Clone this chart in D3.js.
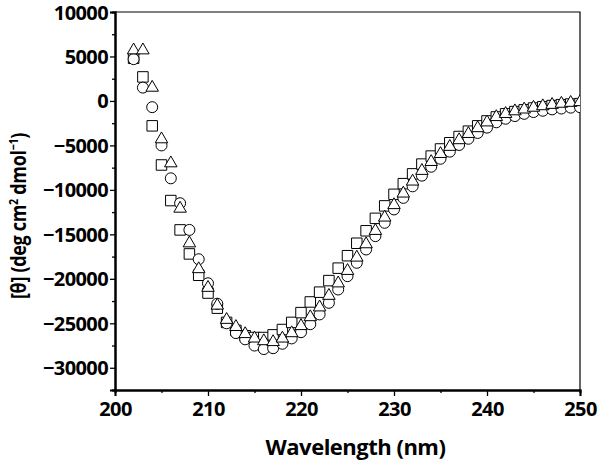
<!DOCTYPE html>
<html><head><meta charset="utf-8">
<script src="https://cdn.jsdelivr.net/npm/d3@7"></script>
<style>
body{margin:0;background:#fff;}
text{font-family:"Open Sans",sans-serif;font-weight:700;fill:#000;}
</style></head>
<body><svg id="c" width="601" height="462"></svg>
<script>
const wavelengths = [202,203,204,205,206,207,208,209,210,211,212,213,214,215,216,217,218,219,220,221,222,223,224,225,226,227,228,229,230,231,232,233,234,235,236,237,238,239,240,241,242,243,244,245,246,247,248,249,250];
const seriesCircle = [4700,1500,-700,-5000,-8700,-11500,-14500,-17800,-20500,-22800,-25000,-26100,-26800,-27500,-27900,-27800,-27300,-26700,-26000,-25100,-24000,-22700,-21200,-19700,-18200,-16700,-15200,-13700,-12200,-10900,-9600,-8400,-7400,-6500,-5700,-4950,-4250,-3600,-3000,-2400,-2000,-1700,-1450,-1250,-1100,-950,-850,-750,-700];
const seriesSquare = [4800,2700,-2800,-7200,-11200,-14500,-17200,-19600,-21600,-23300,-24900,-25800,-26400,-26600,-26600,-26300,-25700,-24900,-23800,-22600,-21500,-20200,-18800,-17400,-16000,-14600,-13200,-11800,-10500,-9300,-8200,-7100,-6200,-5400,-4700,-4000,-3400,-2800,-2250,-1800,-1450,-1200,-1000,-800,-650,-520,-420,-350,-300];
const seriesTriangle = [5700,5700,1500,-4300,-7000,-12100,-16000,-18900,-21000,-23000,-24600,-25400,-26200,-26700,-27000,-27100,-26700,-26100,-25300,-24300,-23200,-21900,-20500,-19100,-17600,-16100,-14600,-13100,-11700,-10400,-9050,-7850,-6850,-5950,-5150,-4400,-3700,-3050,-2400,-1800,-1450,-1150,-950,-750,-580,-430,-300,-200,-120];
const xTicks = [200,210,220,230,240,250];
const xMinorTicks = [205,215,225,235,245];
const yTicks = [10000,5000,0,-5000,-10000,-15000,-20000,-25000,-30000];
const yMinorTicks = [7500,2500,-2500,-7500,-12500,-17500,-22500,-27500,-32500];
const xTitle = "Wavelength (nm)";

const svg = d3.select("#c");
const L=115, R=580, T=12, B=390;
const x = d3.scaleLinear().domain([200,250]).range([L,R]);
const y = d3.scaleLinear().domain([-32500,10000]).range([B,T]);

svg.append("defs").append("clipPath").attr("id","clip")
  .append("rect").attr("x",L).attr("y",T).attr("width",R-L).attr("height",B-T);

svg.append("path").attr("d",`M${L},${T}H${R}V${B}`).attr("fill","none").attr("stroke","#000").attr("stroke-width",1.2);

const fmt = d => d3.format("d")(d).replace("-","\u2212");
const gx = svg.append("g").attr("transform",`translate(0,${B})`);
gx.call(d3.axisBottom(x).tickValues(xTicks).tickSize(6).tickPadding(6).tickFormat(d3.format("d")));
gx.append("g").call(d3.axisBottom(x).tickValues(xMinorTicks).tickSize(3).tickFormat(""));
const gy = svg.append("g").attr("transform",`translate(${L},0)`);
gy.call(d3.axisLeft(y).tickValues(yTicks).tickSize(5).tickPadding(2).tickFormat(fmt));
gy.append("g").call(d3.axisLeft(y).tickValues(yMinorTicks).tickSize(3).tickFormat(""));
svg.selectAll(".domain").attr("stroke","#000").attr("stroke-width",2);
svg.selectAll(".tick line").attr("stroke","#000").attr("stroke-width",1.3);
svg.selectAll(".tick text").style("font-family","'Open Sans',sans-serif").style("font-weight",700).style("font-size","20px").attr("fill","#000").style("letter-spacing","-0.6px");
gx.selectAll(".tick text").attr("dy","0.72em");
gy.selectAll(".tick text").attr("dy","0.35em");

const plot = svg.append("g").attr("clip-path","url(#clip)");
const sq = d3.symbol().type(d3.symbolSquare).size(110);
const ci = d3.symbol().type(d3.symbolCircle).size(95);
const tr = d3.symbol().type(d3.symbolTriangle).size(68);
function draw(vals, gen){
  plot.append("g").selectAll("path").data(wavelengths.map((w,i)=>[w,vals[i]])).join("path")
    .attr("d",gen).attr("transform",d=>`translate(${x(d[0])},${y(d[1])})`)
    .attr("fill","#fff").attr("stroke","#000").attr("stroke-width",1);
}
draw(seriesSquare, sq);
draw(seriesCircle, ci);
draw(seriesTriangle, tr);

svg.append("text").attr("x",(L+R)/2+8).attr("y",455).attr("text-anchor","middle")
  .style("font-size","22px").style("letter-spacing","-0.5px").text(xTitle);

const yt = svg.append("text").attr("transform","translate(26,216) rotate(-90) scale(0.82,1)").attr("text-anchor","middle")
  .style("font-size","22px").style("letter-spacing","-0.4px");
yt.append("tspan").text("[\u03B8] (deg cm");
yt.append("tspan").attr("dy",-8).style("font-size","13px").text("2");
yt.append("tspan").attr("dy",8).text(" dmol");
yt.append("tspan").attr("dy",-8).style("font-size","13px").text("\u22121");
yt.append("tspan").attr("dy",8).text(")");
</script></body></html>
